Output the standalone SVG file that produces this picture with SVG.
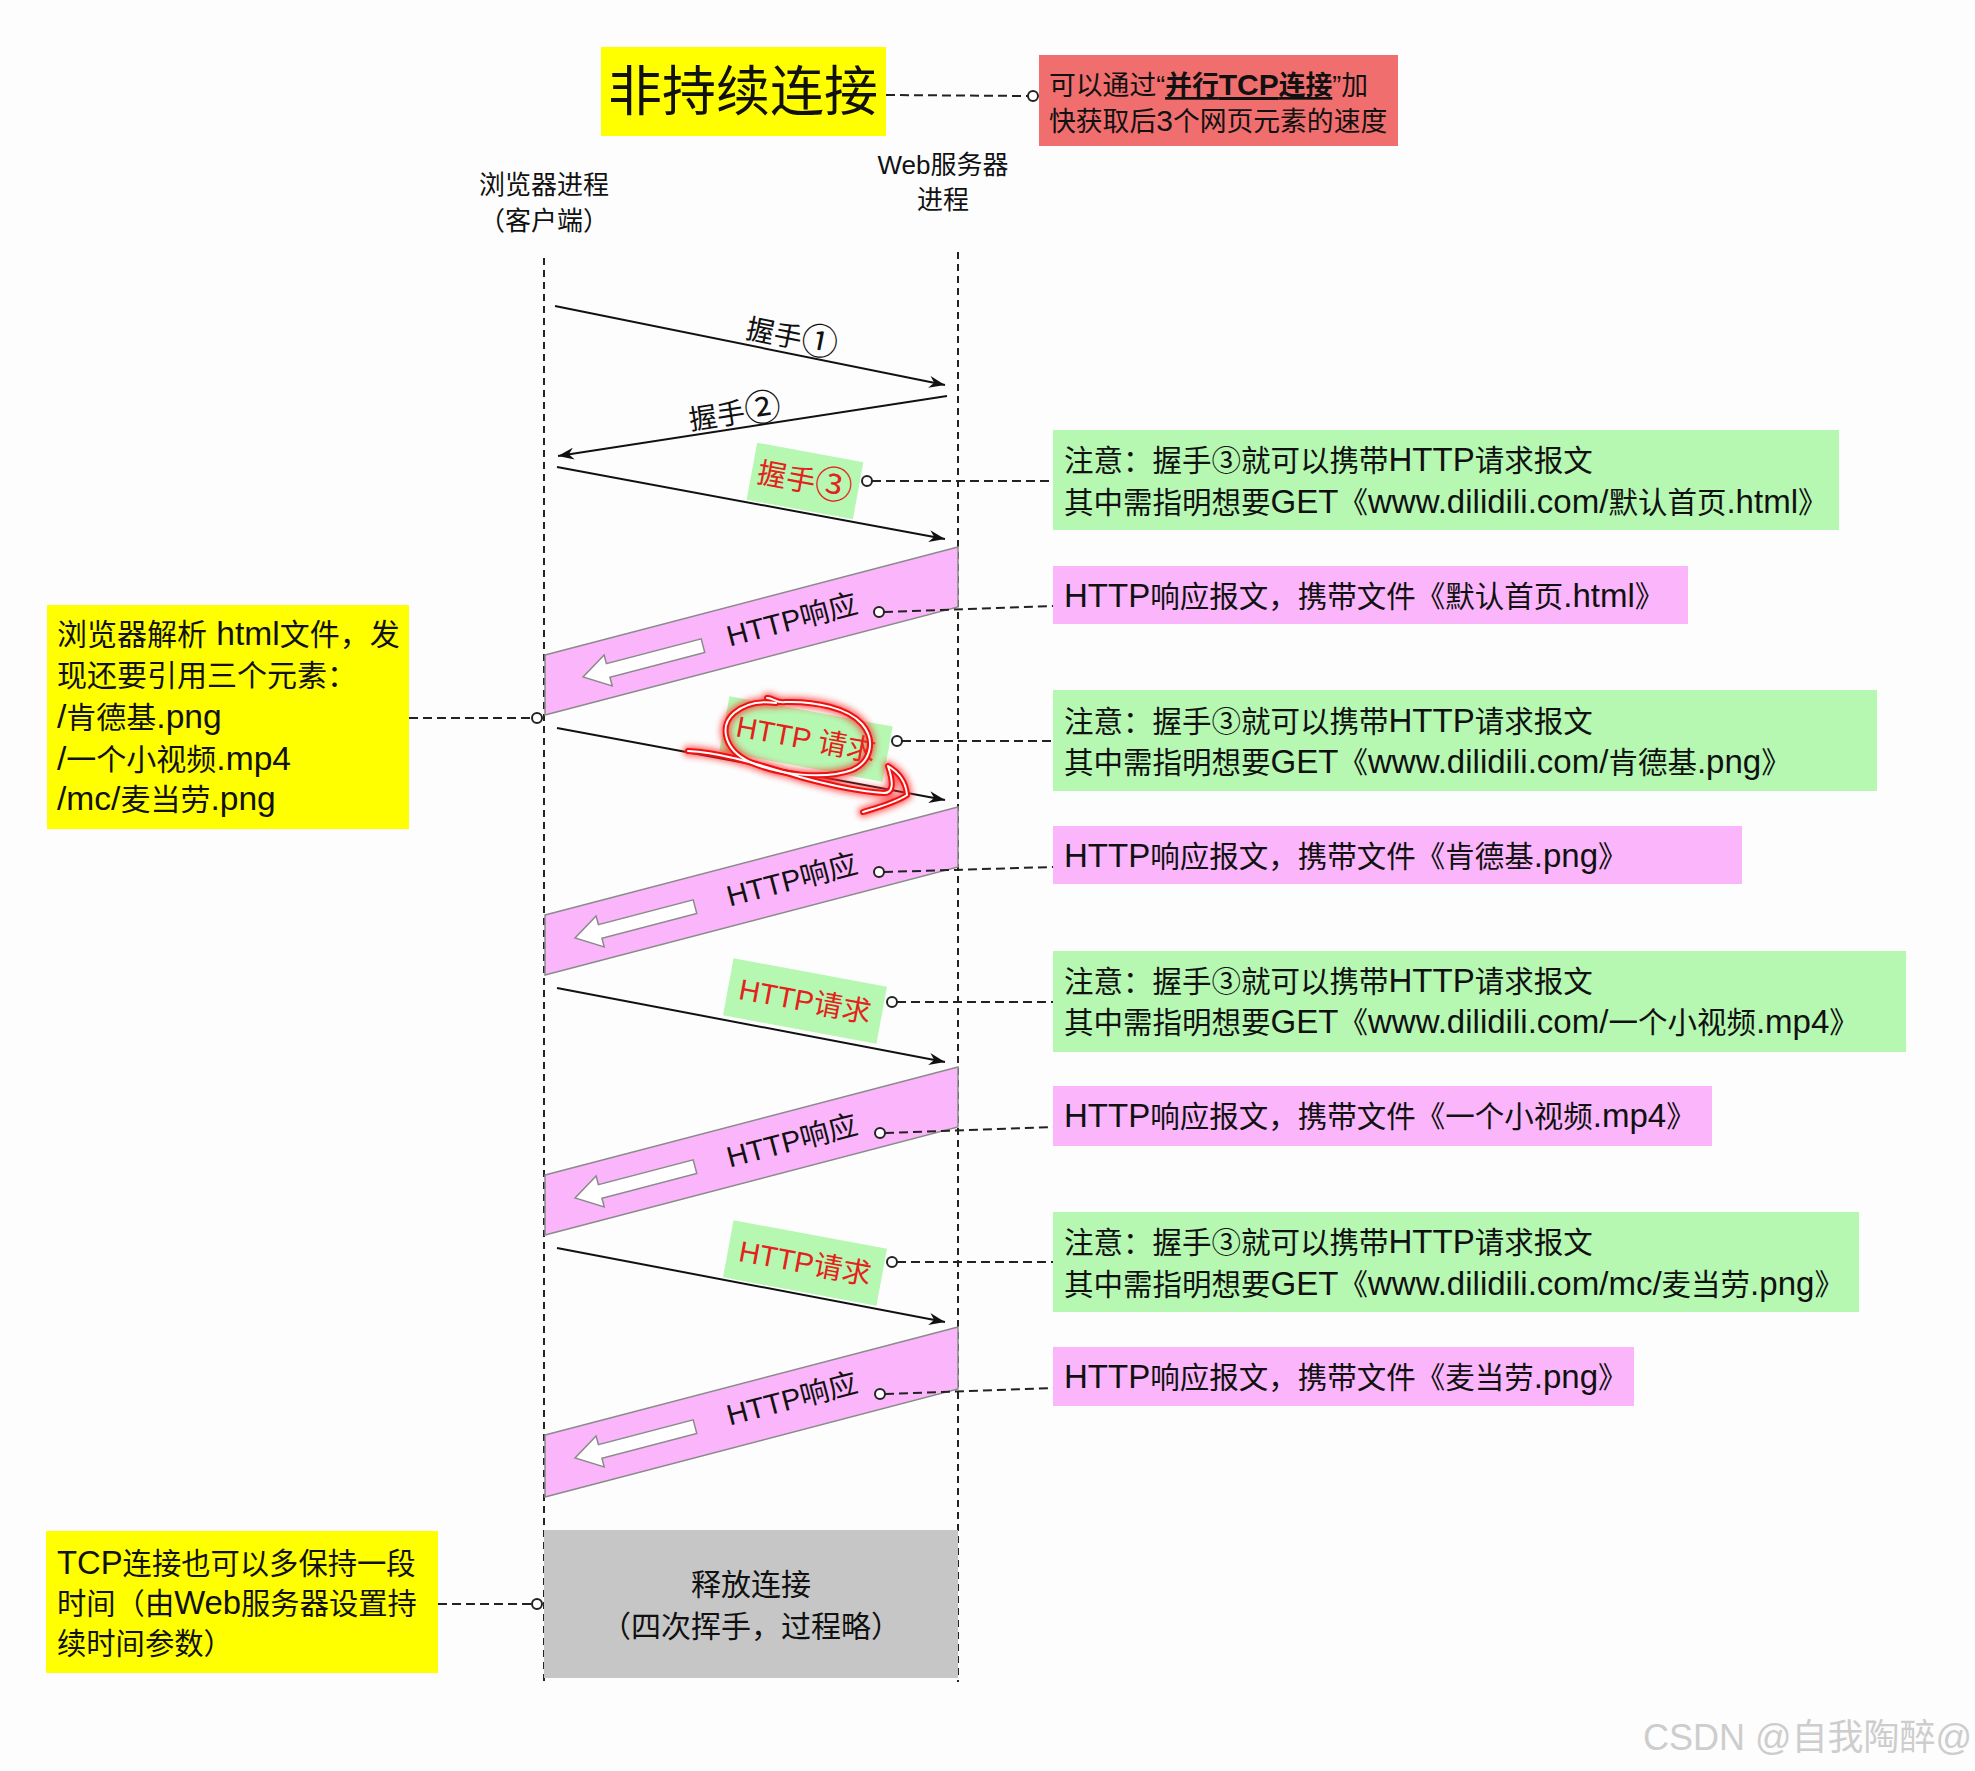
<svg xmlns="http://www.w3.org/2000/svg" width="1975" height="1771" viewBox="0 0 1975 1771">
<style>
text{font-family:"Liberation Sans","Noto Sans CJK SC",sans-serif;fill:#111}
.life{stroke:#222;stroke-width:2;stroke-dasharray:7 5;fill:none}
.dash{stroke:#222;stroke-width:2;stroke-dasharray:9 5;fill:none}
.dot{fill:#fff;stroke:#222;stroke-width:2}
.msg{stroke:#111;stroke-width:2;fill:none;marker-end:url(#ah)}
.band{fill:#fbb6fb;stroke:#8a8a8a;stroke-width:1.5}
.warrow{fill:#fff;stroke:#8a8a8a;stroke-width:1.5}
.green{fill:#b6f7b2}
.pink{fill:#fbb6fb}
.yellow{fill:#ffff00}
.note{font-size:29.5px}
.ytxt{font-size:30px}
.ytxt2{font-size:29.3px}
.L{font-size:1.12em}
.C{font-family:"Noto Sans CJK SC",sans-serif;font-size:1.3em}
.lbl{font-size:29px;fill:#e3231b}
.resp{font-size:29px;fill:#111}
.hs{font-size:28px}
</style>
<defs>
<marker id="ah" viewBox="0 0 16 12" refX="16" refY="6" markerWidth="16" markerHeight="12" markerUnits="userSpaceOnUse" orient="auto">
<path d="M0,0 L16,6 L0,12 L5,6 Z" fill="#111"/>
</marker>
<path id="wa" d="M0,0 L26,-16 L26,-7 L124,-7 L124,7 L26,7 L26,16 Z"/>
<filter id="glow" x="-20%" y="-20%" width="140%" height="140%"><feGaussianBlur stdDeviation="3"/></filter>
</defs>
<rect width="1975" height="1771" fill="#fdfdfd"/>

<g id="lifelines">
<line class="life" x1="544" y1="258" x2="544" y2="1682"/>
<line class="life" x1="958" y1="252" x2="958" y2="1682"/>
</g>

<g id="title">
<rect class="yellow" x="601" y="47" width="285" height="89"/>
<text x="743" y="111" font-size="54" text-anchor="middle">非持续连接</text>
</g>
<g id="parallel-note">
<rect x="1039" y="55" width="359" height="91" fill="#f06e6e"/>
<text x="1049" y="95" font-size="26.8">可以通过“<tspan font-weight="bold" style="text-decoration:underline">并行<tspan class="L">TCP</tspan>连接</tspan>”加</text>
<text x="1049" y="131" font-size="26.8">快获取后<tspan class="L">3</tspan>个网页元素的速度</text>
</g>

<g id="client-label">
<text x="544" y="194" font-size="26" text-anchor="middle">浏览器进程</text>
<text x="544" y="230" font-size="26" text-anchor="middle">（客户端）</text>
</g>
<g id="server-label">
<text x="943" y="174" font-size="26" text-anchor="middle">Web服务器</text>
<text x="943" y="209" font-size="26" text-anchor="middle">进程</text>
</g>

<g id="bands">
<polygon class="band" points="545,655 958,547 958,607 545,715"/>
<polygon class="band" points="545,915 958,807 958,867 545,975"/>
<polygon class="band" points="545,1175 958,1067 958,1127 545,1235"/>
<polygon class="band" points="545,1435 958,1327 958,1389 545,1497"/>
<use href="#wa" class="warrow" transform="translate(583,677) rotate(-14.65)"/>
<use href="#wa" class="warrow" transform="translate(575,938) rotate(-14.65)"/>
<use href="#wa" class="warrow" transform="translate(575,1198) rotate(-14.65)"/>
<use href="#wa" class="warrow" transform="translate(575,1458) rotate(-14.65)"/>
<text class="resp" transform="translate(792,620) rotate(-14.65)" y="10" text-anchor="middle">HTTP响应</text>
<text class="resp" transform="translate(792,880) rotate(-14.65)" y="10" text-anchor="middle">HTTP响应</text>
<text class="resp" transform="translate(792,1141) rotate(-14.65)" y="10" text-anchor="middle">HTTP响应</text>
<text class="resp" transform="translate(792,1399) rotate(-14.65)" y="10" text-anchor="middle">HTTP响应</text>
</g>

<g id="connectors">
<line class="msg" x1="555" y1="306" x2="945" y2="385"/>
<line class="msg" x1="947" y1="396" x2="558" y2="456"/>
<line class="msg" x1="557" y1="467" x2="945" y2="539"/>
<line class="msg" x1="557" y1="728" x2="945" y2="800"/>
<line class="msg" x1="557" y1="988" x2="945" y2="1062"/>
<line class="msg" x1="557" y1="1248" x2="945" y2="1322"/>
<line class="dash" x1="886" y1="95" x2="1028" y2="96"/>
<line class="dash" x1="872" y1="481" x2="1053" y2="481"/>
<line class="dash" x1="884" y1="612" x2="1053" y2="606"/>
<line class="dash" x1="902" y1="741" x2="1053" y2="741"/>
<line class="dash" x1="884" y1="872" x2="1053" y2="867"/>
<line class="dash" x1="897" y1="1002" x2="1053" y2="1002"/>
<line class="dash" x1="885" y1="1133" x2="1053" y2="1127"/>
<line class="dash" x1="897" y1="1262" x2="1053" y2="1262"/>
<line class="dash" x1="885" y1="1394" x2="1053" y2="1388"/>
<line class="dash" x1="409" y1="718" x2="532" y2="718"/>
<line class="dash" x1="438" y1="1604" x2="532" y2="1604"/>
</g>

<g id="handshake-labels">
<text class="hs" transform="translate(792,337) rotate(11.45)" y="10" text-anchor="middle">握手<tspan class="C" dy="2">①</tspan></text>
<text class="hs" transform="translate(735,413) rotate(-8.8)" y="10" text-anchor="middle">握手<tspan class="C" dy="2">②</tspan></text>
</g>

<g id="req-label-hs3" transform="translate(805,481) rotate(10.5)">
<rect class="green" x="-54" y="-29" width="108" height="58"/>
<text class="lbl" y="10" text-anchor="middle">握手<tspan class="C" dy="2">③</tspan></text>
</g>
<g id="req-label-2" transform="translate(806,739) rotate(10.5)">
<rect class="green" x="-83" y="-28" width="166" height="56"/>
<text class="lbl" y="10" text-anchor="middle">HTTP 请求</text>
</g>
<g id="req-label-3" transform="translate(805,1001) rotate(10.5)">
<rect class="green" x="-78" y="-29" width="156" height="58"/>
<text class="lbl" y="10" text-anchor="middle">HTTP请求</text>
</g>
<g id="req-label-4" transform="translate(805,1263) rotate(10.5)">
<rect class="green" x="-78" y="-29" width="156" height="58"/>
<text class="lbl" y="10" text-anchor="middle">HTTP请求</text>
</g>

<g id="scribble" fill="none" stroke-linecap="round" stroke-linejoin="round">
<g filter="url(#glow)" stroke="#ff2a2a" stroke-width="10" opacity="0.75">
<path d="M767,698 C772,697 777,704 785,702 C815,701 848,708 862,724 C876,740 871,762 852,770 C825,780 778,775 750,762 C724,750 719,726 734,713 C746,703 762,701 776,703"/>
<path d="M688,751 C720,752 760,765 800,777 C840,788 868,792 884,793 C893,793 894,784 888,766 C898,772 906,782 907,795 C895,803 876,808 863,812"/>
</g>
<g stroke="#f01010" stroke-width="6">
<path d="M767,698 C772,697 777,704 785,702 C815,701 848,708 862,724 C876,740 871,762 852,770 C825,780 778,775 750,762 C724,750 719,726 734,713 C746,703 762,701 776,703"/>
<path d="M688,751 C720,752 760,765 800,777 C840,788 868,792 884,793 C893,793 894,784 888,766 C898,772 906,782 907,795 C895,803 876,808 863,812"/>
</g>
<g stroke="#ffffff" stroke-width="2">
<path d="M767,698 C772,697 777,704 785,702 C815,701 848,708 862,724 C876,740 871,762 852,770 C825,780 778,775 750,762 C724,750 719,726 734,713 C746,703 762,701 776,703"/>
<path d="M688,751 C720,752 760,765 800,777 C840,788 868,792 884,793 C893,793 894,784 888,766 C898,772 906,782 907,795 C895,803 876,808 863,812"/>
</g>
</g>

<g id="dots">
<circle class="dot" cx="1033" cy="96" r="5"/>
<circle class="dot" cx="867" cy="481" r="5"/>
<circle class="dot" cx="879" cy="612" r="5"/>
<circle class="dot" cx="897" cy="741" r="5"/>
<circle class="dot" cx="879" cy="872" r="5"/>
<circle class="dot" cx="892" cy="1002" r="5"/>
<circle class="dot" cx="880" cy="1133" r="5"/>
<circle class="dot" cx="892" cy="1262" r="5"/>
<circle class="dot" cx="880" cy="1394" r="5"/>
<circle class="dot" cx="537" cy="718" r="5"/>
<circle class="dot" cx="537" cy="1604" r="5"/>
</g>

<g id="note-hs3">
<rect class="green" x="1053" y="430" width="786" height="100"/>
<text class="note" x="1064" y="471">注意：握手③就可以携带<tspan class="L">HTTP</tspan>请求报文</text>
<text class="note" x="1064" y="513">其中需指明想要<tspan class="L">GET</tspan>《<tspan class="L">www.dilidili.com/</tspan>默认首页<tspan class="L">.html</tspan>》</text>
</g>
<g id="note-resp1">
<rect class="pink" x="1053" y="566" width="635" height="58"/>
<text class="note" x="1064" y="607"><tspan class="L">HTTP</tspan>响应报文，携带文件《默认首页<tspan class="L">.html</tspan>》</text>
</g>
<g id="note-req2">
<rect class="green" x="1053" y="690" width="824" height="101"/>
<text class="note" x="1064" y="732">注意：握手③就可以携带<tspan class="L">HTTP</tspan>请求报文</text>
<text class="note" x="1064" y="773">其中需指明想要<tspan class="L">GET</tspan>《<tspan class="L">www.dilidili.com/</tspan>肯德基<tspan class="L">.png</tspan>》</text>
</g>
<g id="note-resp2">
<rect class="pink" x="1053" y="826" width="689" height="58"/>
<text class="note" x="1064" y="867"><tspan class="L">HTTP</tspan>响应报文，携带文件《肯德基<tspan class="L">.png</tspan>》</text>
</g>
<g id="note-req3">
<rect class="green" x="1053" y="951" width="853" height="101"/>
<text class="note" x="1064" y="992">注意：握手③就可以携带<tspan class="L">HTTP</tspan>请求报文</text>
<text class="note" x="1064" y="1033">其中需指明想要<tspan class="L">GET</tspan>《<tspan class="L">www.dilidili.com/</tspan>一个小视频<tspan class="L">.mp4</tspan>》</text>
</g>
<g id="note-resp3">
<rect class="pink" x="1053" y="1086" width="659" height="60"/>
<text class="note" x="1064" y="1127"><tspan class="L">HTTP</tspan>响应报文，携带文件《一个小视频<tspan class="L">.mp4</tspan>》</text>
</g>
<g id="note-req4">
<rect class="green" x="1053" y="1212" width="806" height="100"/>
<text class="note" x="1064" y="1253">注意：握手③就可以携带<tspan class="L">HTTP</tspan>请求报文</text>
<text class="note" x="1064" y="1295">其中需指明想要<tspan class="L">GET</tspan>《<tspan class="L">www.dilidili.com/mc/</tspan>麦当劳<tspan class="L">.png</tspan>》</text>
</g>
<g id="note-resp4">
<rect class="pink" x="1053" y="1347" width="581" height="59"/>
<text class="note" x="1064" y="1388"><tspan class="L">HTTP</tspan>响应报文，携带文件《麦当劳<tspan class="L">.png</tspan>》</text>
</g>

<g id="note-parse">
<rect class="yellow" x="47" y="605" width="362" height="224"/>
<text class="ytxt" x="57" y="645">浏览器解析<tspan class="L"> html</tspan>文件，发</text>
<text class="ytxt" x="57" y="686">现还要引用三个元素：</text>
<text class="ytxt" x="57" y="728"><tspan class="L">/</tspan>肯德基<tspan class="L">.png</tspan></text>
<text class="ytxt" x="57" y="770"><tspan class="L">/</tspan>一个小视频<tspan class="L">.mp4</tspan></text>
<text class="ytxt" x="57" y="810"><tspan class="L">/mc/</tspan>麦当劳<tspan class="L">.png</tspan></text>
</g>

<g id="release">
<rect x="544" y="1530" width="414" height="148" fill="#c6c6c6"/>
<text x="751" y="1595" font-size="30" text-anchor="middle">释放连接</text>
<text x="751" y="1637" font-size="30" text-anchor="middle">（四次挥手，过程略）</text>
</g>

<g id="note-keepalive">
<rect class="yellow" x="46" y="1531" width="392" height="142"/>
<text class="ytxt2" x="57" y="1574"><tspan class="L">TCP</tspan>连接也可以多保持一段</text>
<text class="ytxt2" x="57" y="1614">时间（由<tspan class="L">Web</tspan>服务器设置持</text>
<text class="ytxt2" x="57" y="1654">续时间参数）</text>
</g>

<text x="1643" y="1750" font-size="36" style="fill:#cdcdcd">CSDN @自我陶醉@</text>
</svg>
